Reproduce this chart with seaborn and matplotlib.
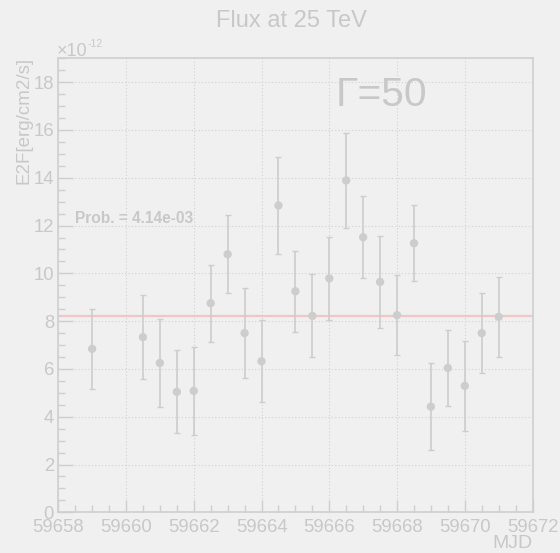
import matplotlib
matplotlib.use("Agg")
import matplotlib.pyplot as plt
from matplotlib.ticker import MultipleLocator
import numpy as np
import pandas as pd
import seaborn as sns

# ---- data ----
mjd = [59659.0, 59660.5, 59661.0, 59661.5, 59662.0, 59662.5, 59663.0, 59663.5,
       59664.0, 59664.5, 59665.0, 59665.5, 59666.0, 59666.5, 59667.0, 59667.5,
       59668.0, 59668.5, 59669.0, 59669.5, 59670.0, 59670.5, 59671.0]
flux = [6.84, 7.33, 6.25, 5.04, 5.08, 8.75, 10.80, 7.50,
        6.32, 12.84, 9.25, 8.22, 9.79, 13.89, 11.51, 9.64,
        8.25, 11.26, 4.42, 6.04, 5.29, 7.50, 8.18]
flux_err = [1.67, 1.76, 1.83, 1.74, 1.83, 1.62, 1.63, 1.90,
            1.72, 2.04, 1.69, 1.74, 1.74, 1.98, 1.72, 1.91,
            1.67, 1.59, 1.82, 1.59, 1.87, 1.66, 1.67]
const_fit = 8.23
title = "Flux at 25 TeV"
gamma_label = "Γ=50"
prob_label = "Prob. = 4.14e-03"
x_label = "MJD"
y_label = "E2F[erg/cm2/s]"
exp_base = "×10"
exp_power = "-12"

df = pd.DataFrame({"mjd": mjd, "flux": flux, "err": flux_err})

sns.set_style("white")
plt.rcParams["font.family"] = ["Liberation Sans", "DejaVu Sans"]

bg = "#f0f0f0"
fg = "#c8c8c8"
pt_col = "#cdcdcd"
axis_col = "#cfcfcf"

fig = plt.figure(figsize=(5.6, 5.53), dpi=100, facecolor=bg)
ax = fig.add_axes([0.104, 0.0736, 0.847, 0.821], facecolor=bg)

ax.errorbar(df["mjd"], df["flux"], yerr=df["err"], fmt="none",
            ecolor=pt_col, elinewidth=1.2, capsize=2, capthick=1.0, zorder=2)
sns.scatterplot(data=df, x="mjd", y="flux", ax=ax, color=pt_col, s=36,
                edgecolor="none", zorder=3, legend=False)
ax.axhline(const_fit, color="#f2c6c6", lw=1.6, zorder=1)

ax.set_xlim(59658, 59672)
ax.set_ylim(0, 19)
ax.xaxis.set_major_locator(MultipleLocator(2))
ax.xaxis.set_minor_locator(MultipleLocator(0.5))
ax.yaxis.set_major_locator(MultipleLocator(2))
ax.yaxis.set_minor_locator(MultipleLocator(0.5))
ax.ticklabel_format(useOffset=False, style="plain", axis="x")

ax.grid(True, which="major", color="#d2d2d2", ls=(0, (1, 2)), lw=0.8)
ax.tick_params(which="both", direction="in", width=1.0, color=axis_col,
               labelcolor=fg, labelsize=13.3)
ax.tick_params(axis="x", which="major", length=8.6, pad=4.5)
ax.tick_params(axis="x", which="minor", length=5)
ax.tick_params(axis="y", which="major", length=10.8, pad=3)
ax.tick_params(axis="y", which="minor", length=5)
ax.tick_params(axis="y", which="both", left=True, right=False)
ax.tick_params(axis="x", which="both", bottom=True, top=False)
for s in ax.spines.values():
    s.set_color(axis_col)
    s.set_linewidth(1.2)

ax.set_xlabel("")
ax.set_ylabel("")
fig.text(0.951, 1 - 544 / 553, x_label, ha="right", va="center", color=fg,
         fontsize=14)
fig.text(33 / 560, 1 - 57 / 553, y_label, ha="right", va="top", rotation=90,
         color=fg, fontsize=13.5)
fig.text(57 / 560, 1 - 56 / 553, exp_base, ha="left", va="baseline", color=fg,
         fontsize=13)
fig.text(88 / 560, 1 - 47 / 553, exp_power, ha="left", va="baseline", color=fg,
         fontsize=7.5)
fig.text(0.52, 0.962, title, ha="center", va="center", color=fg, fontsize=17)
ax.text(59666.19, 17.0, gamma_label, ha="left", va="baseline", color=fg,
        fontsize=29.3)
ax.text(59658.5, 12.3, prob_label, ha="left", va="center", color=fg,
        fontsize=11.2, fontweight="bold")

fig.savefig("out.png", dpi=100, facecolor=bg)
